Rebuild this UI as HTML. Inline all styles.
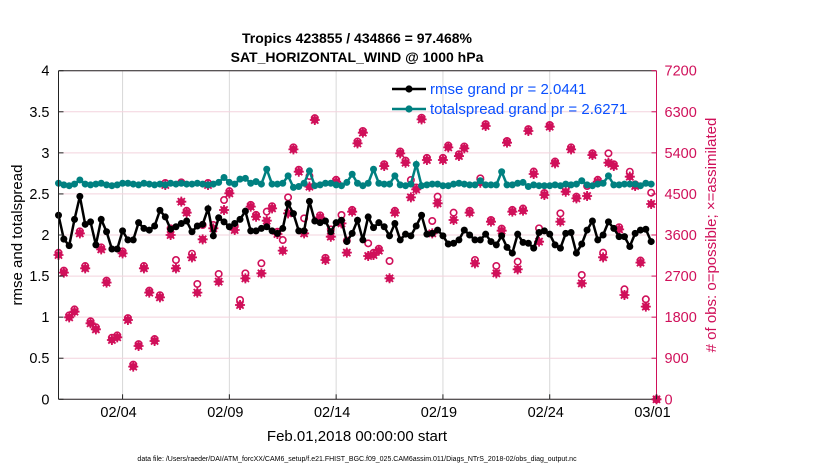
<!DOCTYPE html>
<html><head><meta charset="utf-8"><style>
body{margin:0;background:#fff;}
svg text{font-family:"Liberation Sans",sans-serif;}
</style></head><body>
<svg id="chart" width="830" height="470" viewBox="0 0 830 470" xmlns="http://www.w3.org/2000/svg">
<rect x="0" y="0" width="830" height="470" fill="#fff"/>
<g id="grid"></g>
<g id="marks"></g>
<g id="axes"></g>
<text x="357" y="43" text-anchor="middle" font-size="14" font-weight="bold">Tropics 423855 / 434866 = 97.468%</text>
<text x="357" y="62" text-anchor="middle" font-size="14" font-weight="bold">SAT_HORIZONTAL_WIND @ 1000 hPa</text>
<text transform="translate(22,235) rotate(-90)" text-anchor="middle" font-size="15">rmse and totalspread</text>
<text transform="translate(716,235) rotate(-90)" text-anchor="middle" font-size="15" fill="#d0105a"># of obs: o=possible; ×=assimilated</text>
<text x="357" y="441" text-anchor="middle" font-size="15">Feb.01,2018 00:00:00 start</text>
<text x="357" y="461" text-anchor="middle" font-size="7">data file: /Users/raeder/DAI/ATM_forcXX/CAM6_setup/f.e21.FHIST_BGC.f09_025.CAM6assim.011/Diags_NTrS_2018-02/obs_diag_output.nc</text>
<g>
<line x1="392" y1="89" x2="426" y2="89" stroke="#000" stroke-width="2.5"/>
<circle cx="409" cy="89" r="3.6" fill="#000"/>
<text x="430" y="94" font-size="15" fill="#0a50ff">rmse grand pr = 2.0441</text>
<line x1="392" y1="109" x2="426" y2="109" stroke="#008080" stroke-width="2.5"/>
<circle cx="409" cy="109" r="3.6" fill="#008080"/>
<text x="430" y="114" font-size="15" fill="#0a50ff">totalspread grand pr = 2.6271</text>
</g>
</svg>
<script>
const rmse=[2.24,1.95,1.87,2.19,2.47,2.13,2.16,1.88,2.19,2.04,1.83,1.83,2.05,1.94,1.94,2.15,2.08,2.06,2.11,2.30,2.22,2.07,2.10,2.14,2.17,2.04,2.11,2.13,2.32,1.99,2.21,2.16,2.10,2.14,2.19,2.29,2.05,2.05,2.08,2.10,2.05,2.02,2.08,2.38,2.26,2.05,2.05,2.41,2.17,2.15,2.17,2.04,2.15,2.18,1.92,2.02,2.18,1.94,2.22,2.09,2.15,2.10,1.99,2.14,1.94,2.01,1.99,2.11,2.24,2.01,2.02,2.06,1.99,1.89,1.90,1.94,2.06,2.00,1.94,1.94,2.01,1.92,1.88,1.99,1.85,1.78,2.01,1.91,1.90,1.84,2.03,2.05,2.01,1.88,1.84,2.02,2.03,1.78,1.89,2.06,2.17,1.94,2.00,2.16,2.08,1.98,1.98,1.86,2.02,2.06,2.07,1.92];
const spread=[2.63,2.61,2.60,2.62,2.67,2.62,2.61,2.62,2.63,2.61,2.60,
2.61,2.63,2.63,2.62,2.61,2.63,2.62,2.61,2.62,2.61,2.63,
2.62,2.63,2.62,2.62,2.63,2.62,2.61,2.62,2.64,2.70,2.64,
2.62,2.68,2.69,2.63,2.65,2.62,2.80,2.62,2.62,2.63,2.72,
2.58,2.59,2.63,2.78,2.60,2.61,2.63,2.63,2.61,2.60,2.64,
2.74,2.63,2.60,2.63,2.80,2.63,2.62,2.62,2.72,2.61,2.60,
2.62,2.86,2.60,2.61,2.62,2.62,2.60,2.60,2.62,2.63,2.62,
2.61,2.61,2.66,2.61,2.61,2.61,2.77,2.61,2.61,2.63,2.64,
2.59,2.61,2.60,2.60,2.60,2.61,2.60,2.62,2.61,2.62,2.66,
2.61,2.60,2.62,2.63,2.72,2.61,2.61,2.62,2.62,2.62,2.60,2.63,2.62];
const assimilated=[3162,2775,1796,1920,3636,2870,1665,1533,3286,2556,1300,1358,3198,1738,716,1168,2870,2337,1278,2234,4695,3600,2870,4330,4089,3110,2337,3505,4695,3746,2578,4148,4513,3709,2066,2650,4221,4000,2760,3914,4184,3622,3257,4074,5476,4987,3636,4659,6119,3987,3052,3563,4768,3855,3213,4111,5608,5842,3140,3162,3257,5111,2651,4089,5389,5184,4425,4600,6134,5243,3636,4294,5243,5520,3929,5330,5498,4089,2979,4746,5988,3892,2760,3695,5623,4111,2848,4133,5878,4936,3454,4476,5973,5170,3892,4549,5476,4403,2541,4454,5352,4768,3111,5184,5111,3724,2286,4878,4673,2994,2030,4279,0];
const possible=[3210,2820,1840,1970,3680,2920,1710,1580,3330,2600,1350,1400,3240,1780,760,1210,2920,2380,1320,2280,4740,3746,3052,4754,4130,3190,2527,3819,4740,3819,2746,4366,4560,3800,2176,2760,4260,4040,2980,4111,4230,3670,3490,4425,5520,5030,3965,4892,6160,4030,3100,3724,4810,4038,3476,4150,5650,5880,3417,3210,3300,5150,3030,4130,5430,5230,4805,4640,6170,5290,3907,4440,5290,5560,4089,5370,5540,4130,3052,4841,6030,3930,2921,3740,5660,4150,3016,4180,5920,4990,3746,4520,6010,5210,4074,4620,5520,4440,2724,4673,5390,4810,3213,5389,5150,3770,2410,4987,4710,3040,2191,4527,0];
const leftTicks=["0","0.5","1","1.5","2","2.5","3","3.5","4"];
const rightTicks=["0","900","1800","2700","3600","4500","5400","6300","7200"];
const xTickLabels=["02/04","02/09","02/14","02/19","02/24","03/01"];
const xTickDays=[3,8,13,18,23,28];

const X0=58.5,X1=656.5,Y0=399.3,Y1=70.7,DAYS=28;
const NS="http://www.w3.org/2000/svg";
function xd(d){return X0+(X1-X0)*d/DAYS;}
function xi(i){return xd(i*0.25);}
function yl(v){return Y0-(Y0-Y1)*v/4;}
function yr(v){return Y0-(Y0-Y1)*v/7200;}
function mk(tag,attrs,parent){const e=document.createElementNS(NS,tag);for(const k in attrs)e.setAttribute(k,attrs[k]);parent.appendChild(e);return e;}
const grid=document.getElementById('grid'),marks=document.getElementById('marks'),axes=document.getElementById('axes');
const MAG="#d0105a";
xTickDays.forEach((d,k)=>{
 const l=mk('line',{x1:xd(d),x2:xd(d),y1:Y1,y2:Y0,stroke:'#d8d8d8','stroke-width':1},grid);
 
 
});
leftTicks.forEach((t,k)=>{
 const y=yl(k*0.5);
 const l=mk('line',{x1:X0,x2:X1,y1:y,y2:y,stroke:'#f3d3de','stroke-width':1},grid);
 
 
});
possible.forEach((v,i)=>{
 const c=mk('circle',{cx:xi(i),cy:yr(v),r:3.2,fill:'#fff',stroke:MAG,'stroke-width':1.6},marks);
 
 
});
assimilated.forEach((v,i)=>{
 const x=xi(i),y=yr(v);
 const g=mk('g',{},marks);
 
 
 mk('circle',{cx:x,cy:y,r:3.6,fill:MAG},g);
 mk('path',{d:`M${x-5},${y}H${x+5}M${x},${y-5}V${y+5}M${x-3.6},${y-3.6}L${x+3.6},${y+3.6}M${x-3.6},${y+3.6}L${x+3.6},${y-3.6}`,stroke:MAG,'stroke-width':1.8},g);
});
function series(arr,color,name){
 const p=mk('polyline',{points:arr.map((v,i)=>xi(i)+','+yl(v)).join(' '),fill:'none',stroke:color,'stroke-width':2.5},marks);
 
 
 arr.forEach((v,i)=>{
  const c=mk('circle',{cx:xi(i),cy:yl(v),r:3.5,fill:color},marks);
  
  
 });
}
series(spread,'#008080','totalspread');
series(rmse,'#000','rmse');
mk('line',{x1:X0,x2:X0,y1:Y1,y2:Y0,stroke:'#222','stroke-width':1},axes);
mk('line',{x1:X0,x2:X1,y1:Y0,y2:Y0,stroke:'#222','stroke-width':1},axes);
mk('line',{x1:X0,x2:X1,y1:Y1,y2:Y1,stroke:'#222','stroke-width':1},axes);
mk('line',{x1:X1,x2:X1,y1:Y1,y2:Y0,stroke:MAG,'stroke-width':1},axes);
leftTicks.forEach((t,k)=>{
 const y=yl(k*0.5);
 mk('line',{x1:X0,x2:X0+5,y1:y,y2:y,stroke:'#222'},axes);
 const tx=mk('text',{x:X0-9,y:y+5,'text-anchor':'end','font-size':14.5},axes);
 tx.textContent=t;
 
 
});
rightTicks.forEach((t,k)=>{
 const y=yr(k*900);
 mk('line',{x1:X1-5,x2:X1,y1:y,y2:y,stroke:MAG},axes);
 const tx=mk('text',{x:X1+8,y:y+5,'font-size':14.5,fill:MAG},axes);
 tx.textContent=t;
 
 
});
xTickDays.forEach((d,k)=>{
 mk('line',{x1:xd(d),x2:xd(d),y1:Y0,y2:Y0-5,stroke:'#222'},axes);
 const tx=mk('text',{x:xd(d)-4,y:417,'text-anchor':'middle','font-size':14.5},axes);
 tx.textContent=xTickLabels[k];
 
 
});
</script>
</body></html>
